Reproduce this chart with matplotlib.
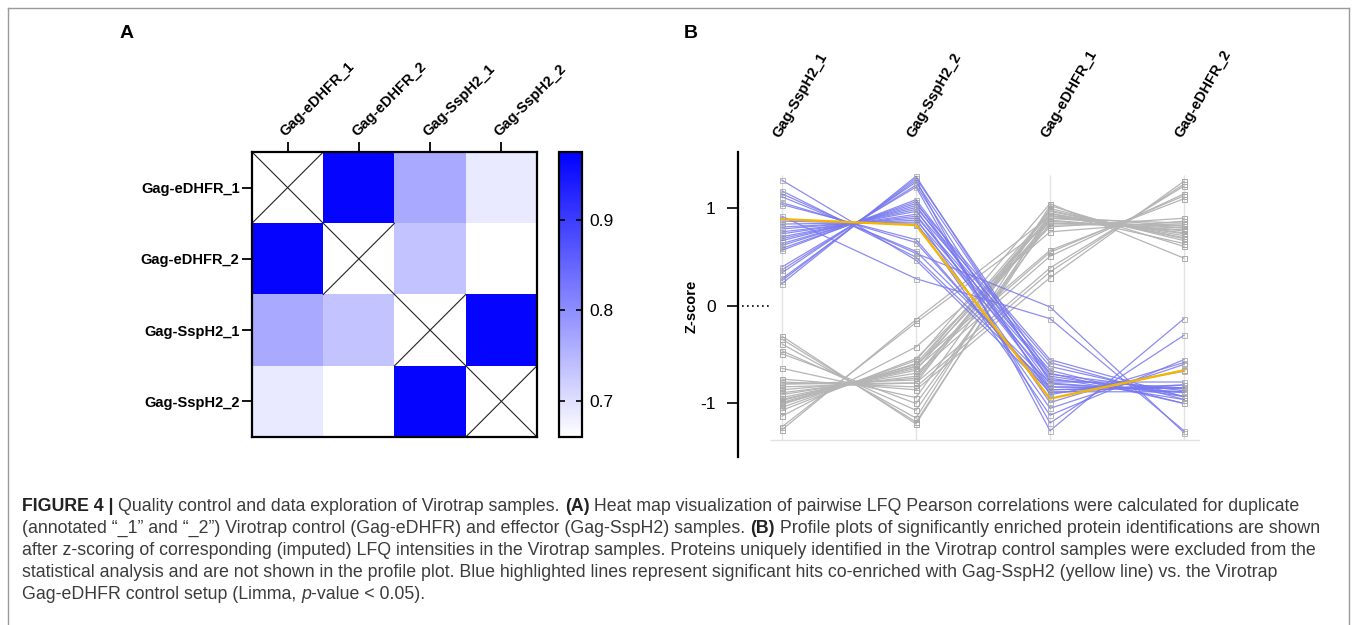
import numpy as np
import matplotlib.pyplot as plt
from matplotlib.colors import LinearSegmentedColormap
from matplotlib.lines import Line2D

plt.rcParams['font.family'] = ['Liberation Sans', 'DejaVu Sans']

W, H = 1357, 625

# panel A: pairwise Pearson correlations
samples_a = ['Gag-eDHFR_1', 'Gag-eDHFR_2', 'Gag-SspH2_1', 'Gag-SspH2_2']
corr = [[np.nan, 0.970, 0.767, 0.688],
        [0.970, np.nan, 0.733, 0.660],
        [0.767, 0.733, np.nan, 0.970],
        [0.688, 0.660, 0.970, np.nan]]
cbar_ticks = [0.7, 0.8, 0.9]

# panel B: z-scored profiles (columns in plot order)
samples_b = ['Gag-SspH2_1', 'Gag-SspH2_2', 'Gag-eDHFR_1', 'Gag-eDHFR_2']
blue_s1 = [1.29, 1.18, 1.15, 1.12, 1.06, 1.04, 0.92, 0.87, 0.84, 0.81, 0.79, 0.76, 0.74,
           0.71, 0.69, 0.67, 0.64, 0.62, 0.59, 0.57, 0.40, 0.37, 0.34, 0.28, 0.26, 0.23]
blue_s2 = [0.47, 0.50, 0.54, 0.56, 0.65, 0.68, 0.28, 0.84, 0.86, 0.88, 0.90, 0.92, 0.94,
           0.97, 0.99, 1.01, 1.03, 1.05, 1.07, 1.09, 1.22, 1.24, 1.27, 1.29, 1.31, 1.33]
blue_e1 = [-0.88, -0.83, -0.01, -0.79, -0.86, -0.89, -0.13, -0.74, -1.12, -0.69, -1.05, -0.66, -0.83,
           -0.62, -0.99, -0.58, -0.80, -0.55, -0.86, -0.72, -1.20, -0.91, -0.76, -1.28, -0.70, -0.78]
blue_e2 = [-0.88, -0.85, -1.30, -0.89, -0.84, -0.81, -1.28, -0.96, -0.55, -1.00, -0.60, -1.00, -0.84,
           -0.93, -0.58, -0.96, -0.88, -0.93, -0.81, -0.93, -0.30, -0.67, -0.84, -0.13, -0.87, -0.78]

gray_s1 = [-0.31, -0.34, -0.39, -0.46, -0.49, -0.64, -0.75, -0.78, -0.80, -0.80, -0.83, -0.86, -0.89,
           -0.91, -0.94, -0.96, -0.97, -0.99, -1.00, -1.01, -1.04, -1.07, -1.13, -1.24, -1.27]
gray_s2 = [-1.21, -1.19, -1.15, -1.07, -1.00, -0.94, -0.86, -0.83, -0.79, -0.76, -0.79, -0.74, -0.72,
           -0.69, -0.66, -0.64, -0.62, -0.60, -0.62, -0.59, -0.56, -0.54, -0.42, -0.17, -0.14]
gray_e1 = [0.95, 0.90, 1.03, 0.92, 0.85, 1.00, 0.29, 0.35, 0.98, 0.87, 0.39, 0.93, 0.88,
           0.51, 0.95, 0.55, 0.83, 0.57, 0.97, 0.90, 1.05, 0.81, 0.76, 0.85, 0.92]
gray_e2 = [0.72, 0.80, 0.61, 0.75, 0.82, 0.67, 1.28, 1.25, 0.69, 0.78, 1.23, 0.74, 0.77,
           1.15, 0.64, 1.13, 0.84, 1.10, 0.70, 0.85, 0.49, 0.90, 0.87, 0.80, 0.82]

bait = [0.89, 0.83, -0.95, -0.66]   # Gag-SspH2 (yellow)

caption = [
    [("FIGURE 4 | ", "bold"), ("Quality control and data exploration of Virotrap samples. ", "normal"),
     ("(A)", "bold"), (" Heat map visualization of pairwise LFQ Pearson correlations were calculated for duplicate", "normal")],
    [("(annotated \u201c_1\u201d and \u201c_2\u201d) Virotrap control (Gag-eDHFR) and effector (Gag-SspH2) samples. ", "normal"),
     ("(B)", "bold"), (" Profile plots of significantly enriched protein identifications are shown", "normal")],
    [("after z-scoring of corresponding (imputed) LFQ intensities in the Virotrap samples. Proteins uniquely identified in the Virotrap control samples were excluded from the", "normal")],
    [("statistical analysis and are not shown in the profile plot. Blue highlighted lines represent significant hits co-enriched with Gag-SspH2 (yellow line) vs. the Virotrap", "normal")],
    [("Gag-eDHFR control setup (Limma, ", "normal"), ("p", "italic"), ("-value < 0.05).", "normal")],
]


def px(x0, y0, x1, y1):
    return [x0 / W, 1 - y1 / H, (x1 - x0) / W, (y1 - y0) / H]


fig = plt.figure(figsize=(W / 100, H / 100), dpi=100)

# ---------------- panel A ----------------
cmap = LinearSegmentedColormap.from_list('wb', ['#ffffff', '#0000ff'])
cmap.set_bad('white')
ax_a = fig.add_axes(px(252, 152, 537, 437))
im = ax_a.imshow(np.array(corr), cmap=cmap, vmin=0.66, vmax=0.975, aspect='auto')
for i in range(len(samples_a)):
    ax_a.plot([i - 0.5, i + 0.5], [i - 0.5, i + 0.5], color='#222222', lw=0.8)
    ax_a.plot([i - 0.5, i + 0.5], [i + 0.5, i - 0.5], color='#222222', lw=0.8)
ax_a.set_xlim(-0.5, 3.5)
ax_a.set_ylim(3.5, -0.5)
ax_a.xaxis.tick_top()
ax_a.set_xticks(range(4))
ax_a.set_xticklabels(samples_a, rotation=45, ha='left', va='bottom',
                     rotation_mode='anchor', fontweight='bold', fontsize=10.5)
ax_a.set_yticks(range(4))
ax_a.set_yticklabels(samples_a, fontweight='bold', fontsize=10.5)
ax_a.tick_params(length=7, width=1.3, pad=2)
for s in ax_a.spines.values():
    s.set_linewidth(1.6)

cax = fig.add_axes(px(559, 152, 582, 437))
cb = fig.colorbar(im, cax=cax)
cb.set_ticks(cbar_ticks)
cb.outline.set_linewidth(1.6)
cax.tick_params(direction='in', length=4, width=1.2, left=True, right=True, labelsize=12.5, pad=5)

fig.text(120 / W, 1 - 34 / H, 'A', fontsize=14, fontweight='bold', va='center')

# ---------------- panel B ----------------
ax_b = fig.add_axes(px(738, 152, 1200, 457))
xs = np.arange(len(samples_b))
ax_b.vlines(xs, -1.37, 1.34, color='#e2e2e2', lw=1, zorder=0)
ax_b.hlines(-1.37, -0.09, 3.12, color='#e2e2e2', lw=1, zorder=0)
mk = dict(marker='s', ms=3.6, mfc='none', mec='#a9a9a9', mew=0.7)
for prof in zip(gray_s1, gray_s2, gray_e1, gray_e2):
    ax_b.plot(xs, prof, color='#b5b5b5', lw=0.9, **mk)
for prof in zip(blue_s1, blue_s2, blue_e1, blue_e2):
    ax_b.plot(xs, prof, color='#7878f0', lw=0.9, alpha=0.85, **mk)
ax_b.plot(xs, bait, color='#f5b400', lw=1.7, **mk)
ax_b.plot([-0.30, -0.10], [0, 0], ls=(0, (1, 2)), color='black', lw=1.2)

ax_b.set_xlim(-0.328, 3.119)
ax_b.set_ylim(-1.549, 1.579)
for k in ['top', 'right', 'bottom']:
    ax_b.spines[k].set_visible(False)
ax_b.spines['left'].set_linewidth(1.6)
ax_b.set_yticks([-1, 0, 1])
ax_b.set_yticklabels(['-1', '0', '1'], fontsize=12.5)
ax_b.tick_params(axis='y', length=8, width=1.2, pad=8)
ax_b.xaxis.tick_top()
ax_b.set_xticks(xs)
ax_b.set_xticklabels(samples_b, rotation=60, ha='left', va='bottom',
                     rotation_mode='anchor', fontweight='bold', fontsize=10.5)
ax_b.tick_params(axis='x', length=0, pad=9)
fig.text(692 / W, 1 - 306 / H, 'Z-score', rotation=90, fontsize=10.5, fontweight='bold',
         ha='center', va='center')
fig.text(684 / W, 1 - 34 / H, 'B', fontsize=14, fontweight='bold', va='center')

# ---------------- frame + caption ----------------
fc = '#9a9a9a'
fig.add_artist(Line2D([8 / W, 8 / W], [0, 1 - 8 / H], color=fc, lw=1))
fig.add_artist(Line2D([1349 / W, 1349 / W], [0, 1 - 8 / H], color=fc, lw=1))
fig.add_artist(Line2D([8 / W, 1349 / W], [1 - 8 / H, 1 - 8 / H], color=fc, lw=1))

cap_fam = ['Liberation Sans Narrow', 'Liberation Sans']
renderer = fig.canvas.get_renderer()


def run_width(s, size, weight, style):
    t = fig.text(0, 0, s + '|', fontsize=size, fontweight=weight, fontstyle=style, family=cap_fam)
    w = t.get_window_extent(renderer).width
    t.remove()
    t = fig.text(0, 0, '|', fontsize=size, fontweight=weight, fontstyle=style, family=cap_fam)
    w -= t.get_window_extent(renderer).width
    t.remove()
    return w


def split(st):
    if st == 'bold':
        return 'bold', 'normal'
    if st == 'italic':
        return 'normal', 'italic'
    return 'normal', 'normal'


# fit the long third line to its width in the reference
w3 = run_width(caption[2][0][0], 10, 'normal', 'normal')
cap_size = 10 * 1298 / w3

for li, line in enumerate(caption):
    x = 22
    y = 1 - (511 + 22 * li) / H
    for s, st in line:
        wt, sty = split(st)
        col = '#222222' if wt == 'bold' else '#3c3c3c'
        fig.text(x / W, y, s, fontsize=cap_size, fontweight=wt, fontstyle=sty,
                 family=cap_fam, color=col, va='baseline')
        x += run_width(s, cap_size, wt, sty)

fig.savefig('out.png', dpi=100)
